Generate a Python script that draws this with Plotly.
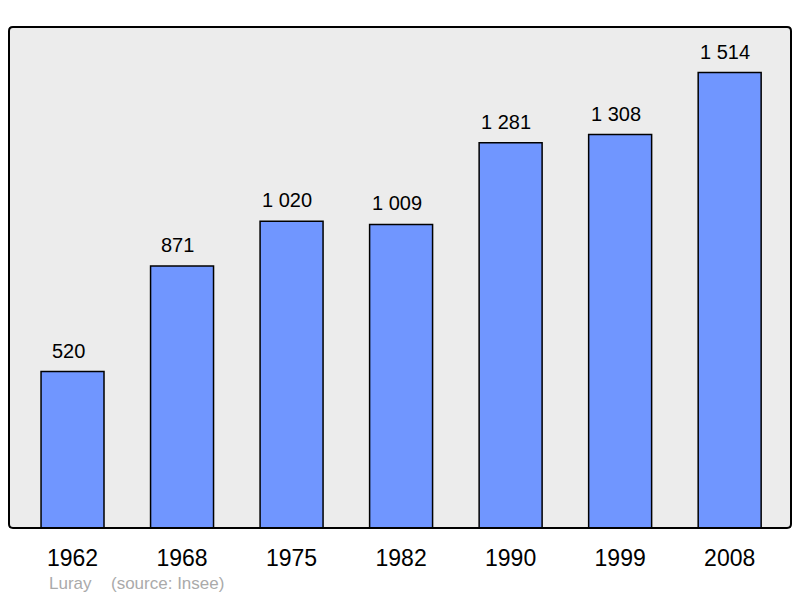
import plotly.graph_objects as go

years = ["1962", "1968", "1975", "1982", "1990", "1999", "2008"]
population = [520, 871, 1020, 1009, 1281, 1308, 1514]
labels = ["520", "871", "1 020", "1 009", "1 281", "1 308", "1 514"]
commune = "Luray"
source = "(source: Insee)"

xs = list(range(len(years)))

# page has an 8px body margin; offset the figure so it lines up with the window
W, H = 784, 590
L, R, T, B = 1, 1, 19, 70
pw, ph = W - L - R, H - T - B

fig = go.Figure()
fig.add_trace(go.Bar(
    x=xs, y=population, width=0.575,
    marker=dict(color="#7096FF", line=dict(color="black", width=1.5)),
    hoverinfo="skip",
))

for x, v, t in zip(xs, population, labels):
    fig.add_annotation(x=x, y=v, text=t, showarrow=False, yanchor="bottom",
                       yshift=8, xshift=-4.5, font=dict(size=20, color="black"))

fy = -(575 - (T + ph)) / ph
fig.add_annotation(xref="paper", yref="paper", x=(39 - L) / pw, y=fy,
                   xanchor="left", yanchor="middle", text=commune, showarrow=False,
                   font=dict(size=17, color="#AAAAAA"))
fig.add_annotation(xref="paper", yref="paper", x=(101 - L) / pw, y=fy,
                   xanchor="left", yanchor="middle", text=source, showarrow=False,
                   font=dict(size=17, color="#AAAAAA"))

# rounded frame
r = 0.005
ry = r * pw / ph
fig.add_shape(type="path", xref="paper", yref="paper",
              path=(f"M {r},0 L {1-r},0 Q 1,0 1,{ry} L 1,{1-ry} Q 1,1 {1-r},1 "
                    f"L {r},1 Q 0,1 0,{1-ry} L 0,{ry} Q 0,0 {r},0 Z"),
              line=dict(color="black", width=2), layer="above")

fig.update_layout(
    width=W, height=H,
    margin=dict(l=L, r=R, t=T, b=B, pad=0),
    paper_bgcolor="white", plot_bgcolor="#ECECEC",
    font=dict(family="Liberation Sans, Arial, sans-serif", color="black"),
    showlegend=False,
    xaxis=dict(range=[-0.58, 6.56], tickvals=xs, ticktext=years, showgrid=False,
               zeroline=False, ticks="outside", ticklen=9, tickcolor="rgba(0,0,0,0)",
               tickfont=dict(size=23, color="black"), fixedrange=True),
    yaxis=dict(range=[0, 1665.4], showgrid=False, zeroline=False, showticklabels=False,
               fixedrange=True),
)

fig.write_html("out.html")
